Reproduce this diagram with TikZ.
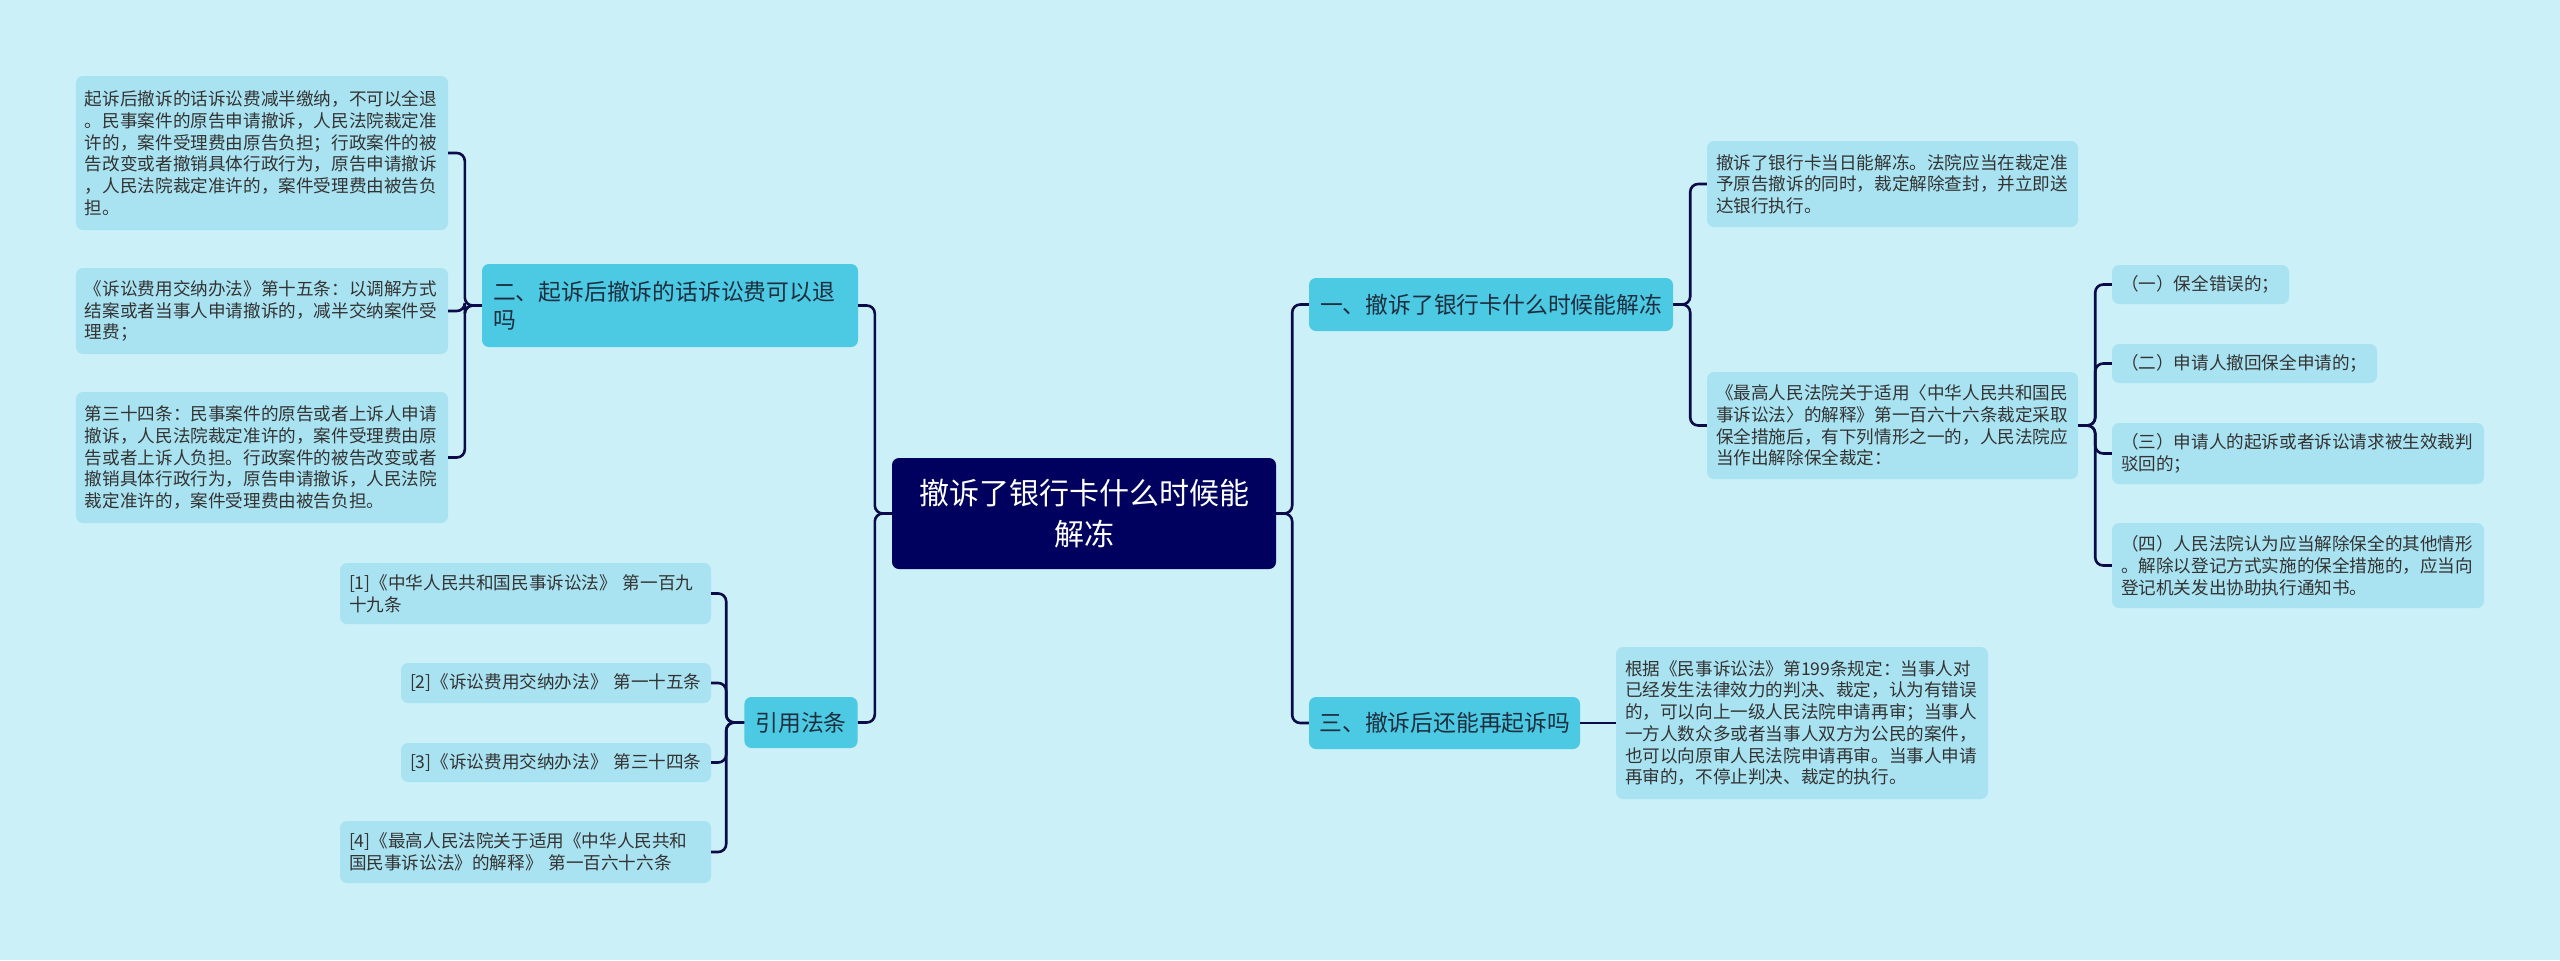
\documentclass[tikz,border=0pt]{standalone}
\usepackage{fontspec}
\setmainfont{Noto Sans CJK SC}
\definecolor{bgc}{HTML}{CBF0F7}
\definecolor{leafc}{HTML}{A9E3F1}
\definecolor{midc}{HTML}{4CC9E3}
\definecolor{rootc}{HTML}{00005E}
\definecolor{linec}{HTML}{0B0B4A}
\definecolor{leaftxt}{HTML}{333333}
\definecolor{midtxt}{HTML}{1D2F3F}
\tikzset{
  leaf/.style={fill=leafc, rounded corners=7bp, text=leaftxt,
    font=\fontsize{17.6bp}{21.7bp}\selectfont, align=left,
    inner xsep=9bp, inner ysep=0bp},
  mid/.style={fill=midc, rounded corners=7bp, text=midtxt,
    font=\fontsize{22.8bp}{28bp}\selectfont, align=left,
    inner xsep=11bp, inner ysep=0bp},
  rootbox/.style={fill=rootc, rounded corners=7bp, text=white,
    font=\fontsize{30bp}{41.7bp}\selectfont, align=center,
    inner xsep=10bp, inner ysep=0bp},
  conn/.style={draw=linec, line width=2.6bp, rounded corners=8bp}
}
\begin{document}
\begin{tikzpicture}[x=1bp,y=-1bp]
\fill[bgc] (0,0) rectangle (2560,960);
\useasboundingbox (0,0) rectangle (2560,960);

% root
\node[rootbox, minimum width=384bp, minimum height=111bp] (root) at (1084,513.5) {撤诉了银行卡什么时候能\\解冻};

% level 1
\node[mid, text width=354bp, minimum height=83bp] (n2) at (670,305.5) {二、起诉后撤诉的话诉讼费可以退\\吗};
\node[mid, align=center, minimum width=112bp, minimum height=51bp] (cite) at (801,722.5) {引用法条};
\node[mid, text width=342bp, minimum height=53bp] (n1) at (1491,304.5) {一、撤诉了银行卡什么时候能解冻};
\node[mid, text width=250bp, inner xsep=10.5bp, minimum height=52bp] (n3) at (1444.5,723) {三、撤诉后还能再起诉吗};

% left leaves
\node[leaf, text width=354bp, minimum height=154bp] (l1) at (262,153) {起诉后撤诉的话诉讼费减半缴纳，不可以全退\\。民事案件的原告申请撤诉，人民法院裁定准\\许的，案件受理费由原告负担；行政案件的被\\告改变或者撤销具体行政行为，原告申请撤诉\\，人民法院裁定准许的，案件受理费由被告负\\担。};
\node[leaf, text width=354bp, minimum height=86bp] (l2) at (262,311) {《诉讼费用交纳办法》第十五条：以调解方式\\结案或者当事人申请撤诉的，减半交纳案件受\\理费；};
\node[leaf, text width=354bp, minimum height=131bp] (l3) at (262,457.5) {第三十四条：民事案件的原告或者上诉人申请\\撤诉，人民法院裁定准许的，案件受理费由原\\告或者上诉人负担。行政案件的被告改变或者\\撤销具体行政行为，原告申请撤诉，人民法院\\裁定准许的，案件受理费由被告负担。};

% citations
\node[leaf, text width=353bp, minimum height=61bp] (c1) at (525.5,593.5) {[1]《中华人民共和国民事诉讼法》 第一百九\\十九条};
\node[leaf, text width=292bp, minimum height=40bp] (c2) at (556,683) {[2]《诉讼费用交纳办法》 第一十五条};
\node[leaf, text width=292bp, minimum height=39bp] (c3) at (556,762.5) {[3]《诉讼费用交纳办法》 第三十四条};
\node[leaf, text width=353bp, minimum height=62bp] (c4) at (525.5,852) {[4]《最高人民法院关于适用《中华人民共和\\国民事诉讼法》的解释》 第一百六十六条};

% right leaves
\node[leaf, text width=353bp, minimum height=86bp] (r1) at (1892.5,184) {撤诉了银行卡当日能解冻。法院应当在裁定准\\予原告撤诉的同时，裁定解除查封，并立即送\\达银行执行。};
\node[leaf, text width=353bp, minimum height=107bp] (r2) at (1892.5,425.5) {《最高人民法院关于适用〈中华人民共和国民\\事诉讼法〉的解释》第一百六十六条裁定采取\\保全措施后，有下列情形之一的，人民法院应\\当作出解除保全裁定：};
\node[leaf, text width=354bp, minimum height=152bp] (r3) at (1802,723) {根据《民事诉讼法》第199条规定：当事人对\\已经发生法律效力的判决、裁定，认为有错误\\的，可以向上一级人民法院申请再审；当事人\\一方人数众多或者当事人双方为公民的案件，\\也可以向原审人民法院申请再审。当事人申请\\再审的，不停止判决、裁定的执行。};

\node[leaf, text width=159bp, minimum height=39bp] (s1) at (2200.5,284.5) {（一）保全错误的；};
\node[leaf, text width=247bp, minimum height=39bp] (s2) at (2244.5,363.5) {（二）申请人撤回保全申请的；};
\node[leaf, text width=354bp, minimum height=61bp] (s3) at (2298,453.5) {（三）申请人的起诉或者诉讼请求被生效裁判\\驳回的；};
\node[leaf, text width=354bp, minimum height=85bp] (s4) at (2298,565.5) {（四）人民法院认为应当解除保全的其他情形\\。解除以登记方式实施的保全措施的，应当向\\登记机关发出协助执行通知书。};

% connectors
\foreach \c in {n1,n3} \draw[conn] (root.east) -- ++(16,0) |- (\c.west);
\foreach \c in {n2,cite} \draw[conn] (root.west) -- ++(-17,0) |- (\c.east);
\foreach \c in {l1,l2,l3} \draw[conn] (n2.west) -- ++(-17,0) |- (\c.east);
\foreach \c in {c1,c2,c3,c4} \draw[conn] (cite.west) -- ++(-18,0) |- (\c.east);
\foreach \c in {r1,r2} \draw[conn] (n1.east) -- ++(17,0) |- (\c.west);
\foreach \c in {s1,s2,s3,s4} \draw[conn] (r2.east) -- ++(17,0) |- (\c.west);
\draw[conn] (n3.east) -- (r3.west);
\end{tikzpicture}
\end{document}
